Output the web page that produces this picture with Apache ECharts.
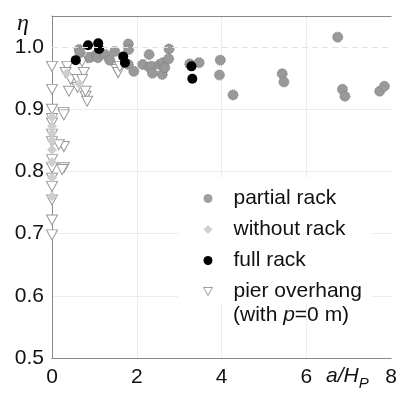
<!DOCTYPE html>
<html><head><meta charset="utf-8">
<script src="https://cdn.jsdelivr.net/npm/echarts@6/dist/echarts.min.js"></script>
<style>html,body{margin:0;padding:0;background:#fff}#c{width:400px;height:394px}</style>
</head><body><div id="c"></div>
<script>
var xTicks = [0, 2, 4, 6, 8];
var yTicks = [0.5, 0.6, 0.7, 0.8, 0.9, 1.0];
var seriesNames = ['partial rack', 'without rack', 'full rack', 'pier overhang'];
var partialRack = [[0.64,0.996],[0.66,0.991],[0.89,0.983],[1.05,0.988],[1.08,0.983],[1.25,0.988],[1.36,0.979],[1.48,0.993],[1.80,1.005],[1.81,0.996],[1.80,0.972],[1.93,0.961],[2.14,0.972],[2.29,0.988],[2.29,0.968],[2.35,0.969],[2.37,0.958],[2.54,0.972],[2.60,0.956],[2.62,0.975],[2.66,0.967],[2.76,0.997],[2.75,0.981],[3.25,0.973],[3.47,0.975],[3.97,0.979],[3.95,0.955],[4.27,0.923],[5.43,0.957],[5.47,0.944],[6.74,1.016],[6.85,0.932],[6.91,0.921],[7.73,0.929],[7.84,0.937]];
var withoutRack = [[0,0.887],[0,0.873],[0,0.862],[0,0.850],[0,0.835],[0,0.815],[0,0.790],[0,0.760],[0.64,0.941],[0.35,0.958]];
var fullRack = [[0.56,0.979],[0.85,1.003],[1.09,1.006],[1.11,0.997],[1.68,0.985],[1.72,0.975],[3.29,0.969],[3.31,0.949]];
var pierOverhang = [[0,0.969],[0,0.932],[0,0.900],[0,0.885],[0,0.878],[0,0.860],[0,0.848],[0,0.819],[0,0.806],[0,0.789],[0,0.776],[0,0.754],[0,0.722],[0,0.698],[0.27,0.895],[0.28,0.891],[0.28,0.840],[0.28,0.806],[0.16,0.843],[0.24,0.803],[0.36,0.969],[0.32,0.959],[0.44,0.948],[0.40,0.929],[0.60,0.935],[0.60,0.948],[0.75,0.959],[0.71,0.948],[0.79,0.921],[0.83,0.913],[0.79,0.929],[0.71,0.977],[0.83,0.983],[1.52,0.964],[1.56,0.959],[1.60,0.969]];

var FONT = 'Liberation Sans';
var tri = 'path://M0,0L10,0L5,9Z';
var chart = echarts.init(document.getElementById('c'));
chart.setOption({
  animation: false,
  backgroundColor: '#fff',
  textStyle: {fontFamily: FONT},
  grid: {left: 52, right: 8, top: 16, bottom: 36, containLabel: false},
  xAxis: [{
    type: 'value', min: 0, max: 8, interval: 2,
    axisLine: {show: true, lineStyle: {color: '#888', width: 1}},
    axisTick: {show: false},
    axisLabel: {fontSize: 21, color: '#111', margin: 9, fontFamily: FONT},
    splitLine: {show: true, lineStyle: {color: ['transparent', '#ececec', '#ececec', '#ececec', 'transparent'], width: 1}}
  }, {
    type: 'value', min: 0, max: 8, position: 'top',
    axisLine: {show: true, onZero: false, lineStyle: {color: '#888', width: 1}},
    axisTick: {show: false}, axisLabel: {show: false}, splitLine: {show: false}
  }],
  yAxis: {
    type: 'value', min: 0.5, max: 1.05, interval: 0.1,
    axisLine: {show: true, lineStyle: {color: '#888', width: 1}},
    axisTick: {show: false},
    axisLabel: {fontSize: 21, color: '#111', margin: 8, fontFamily: FONT, showMaxLabel: false,
      formatter: function (v) { return yTicks.indexOf(Math.round(v * 10) / 10) >= 0 ? v.toFixed(1) : ''; }},
    splitLine: {show: true, lineStyle: {color: ['transparent', '#ececec', '#ececec', '#ececec', '#ececec', 'transparent', 'transparent'], width: 1}}
  },
  legend: {
    left: 178, top: 178, orient: 'vertical',
    padding: [10, 10, 2, 25],
    backgroundColor: '#fff',
    itemWidth: 9, itemHeight: 9, itemGap: 10,
    textStyle: {fontSize: 21, color: '#111', fontFamily: FONT, padding: [0, 0, 0, 16]},
    data: [
      {name: seriesNames[0], itemStyle: {color: '#a0a0a0', borderColor: '#a0a0a0', borderWidth: 0}},
      {name: seriesNames[1], itemStyle: {color: '#d0d0d0'}},
      {name: seriesNames[2]},
      {name: seriesNames[3], itemStyle: {color: '#fff', borderColor: '#999', borderWidth: 1}}
    ]
  },
  series: [
    {name: seriesNames[0], type: 'scatter', z: 3, data: partialRack, symbol: 'circle', symbolSize: 10,
     itemStyle: {color: '#999', borderColor: '#7a7a7a', borderWidth: 1, borderType: 'dotted', opacity: 1},
     markLine: {silent: true, symbol: 'none', label: {show: false}, data: [{yAxis: 1.0}],
       lineStyle: {color: '#e2e2e2', type: [6, 4], width: 1}}},
    {name: seriesNames[1], type: 'scatter', z: 2, data: withoutRack, symbol: 'diamond', symbolSize: 10,
     itemStyle: {color: '#cfcfcf', opacity: 1}},
    {name: seriesNames[2], type: 'scatter', z: 4, data: fullRack, symbol: 'circle', symbolSize: 10,
     itemStyle: {color: '#000', opacity: 1}},
    {name: seriesNames[3], type: 'scatter', z: 1, data: pierOverhang, symbol: tri, symbolSize: [11, 10],
     itemStyle: {color: '#fff', borderColor: '#9a9a9a', borderWidth: 1, opacity: 1}}
  ],
  graphic: [
    {type: 'text', left: 17, top: 12, style: {text: 'η', font: 'italic 24px "Liberation Serif"', fill: '#111'}},
    {type: 'text', left: 233, top: 305, style: {rich: {
        n: {fontSize: 21, fontFamily: FONT, fill: '#111'},
        it: {fontSize: 21, fontFamily: FONT, fontStyle: 'italic', fill: '#111'}},
      text: '{n|(with }{it|p}{n|=0 m)}'}},
    {type: 'text', left: 326, top: 366, style: {rich: {
        it: {fontSize: 21, fontFamily: FONT, fontStyle: 'italic', fill: '#111', verticalAlign: 'top'},
        sub: {fontSize: 15, fontFamily: FONT, fontStyle: 'italic', fill: '#111', padding: [10, 0, 0, 0]}},
      text: '{it|a/H}{sub|P}'}}
  ]
});
</script></body></html>
